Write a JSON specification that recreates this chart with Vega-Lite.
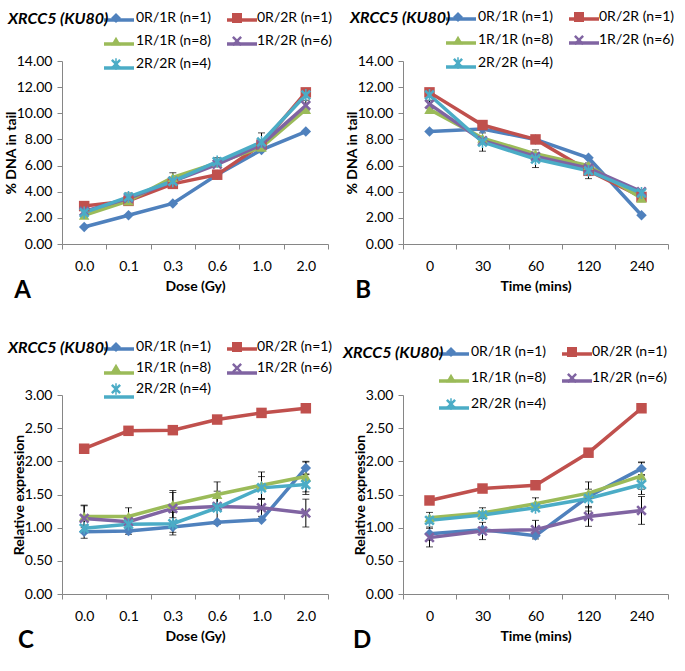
{
  "$schema": "https://vega.github.io/schema/vega-lite/v6.json",
  "background": "white",
  "padding": {"left": 4, "top": 2, "right": 5, "bottom": 5},
  "datasets": {
    "A": [
      {"x": "0.0", "s": "0R/1R (n=1)", "v": 1.3}, {"x": "0.1", "s": "0R/1R (n=1)", "v": 2.2}, {"x": "0.3", "s": "0R/1R (n=1)", "v": 3.1}, {"x": "0.6", "s": "0R/1R (n=1)", "v": 5.3}, {"x": "1.0", "s": "0R/1R (n=1)", "v": 7.2}, {"x": "2.0", "s": "0R/1R (n=1)", "v": 8.6},
      {"x": "0.0", "s": "0R/2R (n=1)", "v": 2.9}, {"x": "0.1", "s": "0R/2R (n=1)", "v": 3.3}, {"x": "0.3", "s": "0R/2R (n=1)", "v": 4.6}, {"x": "0.6", "s": "0R/2R (n=1)", "v": 5.3}, {"x": "1.0", "s": "0R/2R (n=1)", "v": 7.6}, {"x": "2.0", "s": "0R/2R (n=1)", "v": 11.6},
      {"x": "0.0", "s": "1R/1R (n=8)", "v": 2.2}, {"x": "0.1", "s": "1R/1R (n=8)", "v": 3.3}, {"x": "0.3", "s": "1R/1R (n=8)", "v": 5.1, "lo": 4.8, "hi": 5.45}, {"x": "0.6", "s": "1R/1R (n=8)", "v": 6.2}, {"x": "1.0", "s": "1R/1R (n=8)", "v": 7.4}, {"x": "2.0", "s": "1R/1R (n=8)", "v": 10.3},
      {"x": "0.0", "s": "1R/2R (n=6)", "v": 2.5}, {"x": "0.1", "s": "1R/2R (n=6)", "v": 3.5}, {"x": "0.3", "s": "1R/2R (n=6)", "v": 4.8}, {"x": "0.6", "s": "1R/2R (n=6)", "v": 6.1}, {"x": "1.0", "s": "1R/2R (n=6)", "v": 7.6}, {"x": "2.0", "s": "1R/2R (n=6)", "v": 10.6, "lo": 10.2, "hi": 11.0},
      {"x": "0.0", "s": "2R/2R (n=4)", "v": 2.4}, {"x": "0.1", "s": "2R/2R (n=4)", "v": 3.6, "lo": 3.3, "hi": 3.9}, {"x": "0.3", "s": "2R/2R (n=4)", "v": 4.8}, {"x": "0.6", "s": "2R/2R (n=4)", "v": 6.3, "lo": 6.0, "hi": 6.6}, {"x": "1.0", "s": "2R/2R (n=4)", "v": 7.8, "lo": 7.2, "hi": 8.5}, {"x": "2.0", "s": "2R/2R (n=4)", "v": 11.4}
    ],
    "B": [
      {"x": 0, "s": "0R/1R (n=1)", "v": 8.6}, {"x": 30, "s": "0R/1R (n=1)", "v": 8.8}, {"x": 60, "s": "0R/1R (n=1)", "v": 8.0}, {"x": 120, "s": "0R/1R (n=1)", "v": 6.6}, {"x": 240, "s": "0R/1R (n=1)", "v": 2.2},
      {"x": 0, "s": "0R/2R (n=1)", "v": 11.6}, {"x": 30, "s": "0R/2R (n=1)", "v": 9.1}, {"x": 60, "s": "0R/2R (n=1)", "v": 8.0}, {"x": 120, "s": "0R/2R (n=1)", "v": 5.6}, {"x": 240, "s": "0R/2R (n=1)", "v": 3.6},
      {"x": 0, "s": "1R/1R (n=8)", "v": 10.3}, {"x": 30, "s": "1R/1R (n=8)", "v": 8.1}, {"x": 60, "s": "1R/1R (n=8)", "v": 6.9}, {"x": 120, "s": "1R/1R (n=8)", "v": 6.0}, {"x": 240, "s": "1R/1R (n=8)", "v": 3.5},
      {"x": 0, "s": "1R/2R (n=6)", "v": 10.7, "lo": 10.4, "hi": 11.0}, {"x": 30, "s": "1R/2R (n=6)", "v": 7.9}, {"x": 60, "s": "1R/2R (n=6)", "v": 6.7}, {"x": 120, "s": "1R/2R (n=6)", "v": 5.8}, {"x": 240, "s": "1R/2R (n=6)", "v": 4.0, "lo": 3.9, "hi": 4.1},
      {"x": 0, "s": "2R/2R (n=4)", "v": 11.4}, {"x": 30, "s": "2R/2R (n=4)", "v": 7.8, "lo": 7.1, "hi": 8.5}, {"x": 60, "s": "2R/2R (n=4)", "v": 6.5, "lo": 5.85, "hi": 7.2}, {"x": 120, "s": "2R/2R (n=4)", "v": 5.6, "lo": 5.0, "hi": 6.2}, {"x": 240, "s": "2R/2R (n=4)", "v": 3.9}
    ],
    "C": [
      {"x": "0.0", "s": "0R/1R (n=1)", "v": 0.94, "lo": 0.84, "hi": 1.04}, {"x": "0.1", "s": "0R/1R (n=1)", "v": 0.95, "lo": 0.9, "hi": 1.0}, {"x": "0.3", "s": "0R/1R (n=1)", "v": 1.01, "lo": 0.93, "hi": 1.09}, {"x": "0.6", "s": "0R/1R (n=1)", "v": 1.08}, {"x": "1.0", "s": "0R/1R (n=1)", "v": 1.12}, {"x": "2.0", "s": "0R/1R (n=1)", "v": 1.9, "lo": 1.81, "hi": 1.99},
      {"x": "0.0", "s": "0R/2R (n=1)", "v": 2.19}, {"x": "0.1", "s": "0R/2R (n=1)", "v": 2.46}, {"x": "0.3", "s": "0R/2R (n=1)", "v": 2.47}, {"x": "0.6", "s": "0R/2R (n=1)", "v": 2.63}, {"x": "1.0", "s": "0R/2R (n=1)", "v": 2.73}, {"x": "2.0", "s": "0R/2R (n=1)", "v": 2.8},
      {"x": "0.0", "s": "1R/1R (n=8)", "v": 1.17, "lo": 1.0, "hi": 1.34}, {"x": "0.1", "s": "1R/1R (n=8)", "v": 1.17, "lo": 1.04, "hi": 1.3}, {"x": "0.3", "s": "1R/1R (n=8)", "v": 1.35, "lo": 1.15, "hi": 1.56}, {"x": "0.6", "s": "1R/1R (n=8)", "v": 1.5, "lo": 1.31, "hi": 1.69}, {"x": "1.0", "s": "1R/1R (n=8)", "v": 1.64, "lo": 1.44, "hi": 1.84}, {"x": "2.0", "s": "1R/1R (n=8)", "v": 1.77, "lo": 1.54, "hi": 2.0},
      {"x": "0.0", "s": "1R/2R (n=6)", "v": 1.14, "lo": 0.95, "hi": 1.33}, {"x": "0.1", "s": "1R/2R (n=6)", "v": 1.09}, {"x": "0.3", "s": "1R/2R (n=6)", "v": 1.29, "lo": 1.05, "hi": 1.53}, {"x": "0.6", "s": "1R/2R (n=6)", "v": 1.32}, {"x": "1.0", "s": "1R/2R (n=6)", "v": 1.3, "lo": 1.17, "hi": 1.43}, {"x": "2.0", "s": "1R/2R (n=6)", "v": 1.22, "lo": 1.01, "hi": 1.43},
      {"x": "0.0", "s": "2R/2R (n=4)", "v": 0.99}, {"x": "0.1", "s": "2R/2R (n=4)", "v": 1.05}, {"x": "0.3", "s": "2R/2R (n=4)", "v": 1.06, "lo": 0.89, "hi": 1.23}, {"x": "0.6", "s": "2R/2R (n=4)", "v": 1.3, "lo": 1.05, "hi": 1.55}, {"x": "1.0", "s": "2R/2R (n=4)", "v": 1.6, "lo": 1.43, "hi": 1.77}, {"x": "2.0", "s": "2R/2R (n=4)", "v": 1.65, "lo": 1.5, "hi": 1.8}
    ],
    "D": [
      {"x": 0, "s": "0R/1R (n=1)", "v": 0.91, "lo": 0.81, "hi": 1.01}, {"x": 30, "s": "0R/1R (n=1)", "v": 0.97}, {"x": 60, "s": "0R/1R (n=1)", "v": 0.88}, {"x": 120, "s": "0R/1R (n=1)", "v": 1.47, "lo": 1.25, "hi": 1.69}, {"x": 240, "s": "0R/1R (n=1)", "v": 1.89, "lo": 1.79, "hi": 1.99},
      {"x": 0, "s": "0R/2R (n=1)", "v": 1.41}, {"x": 30, "s": "0R/2R (n=1)", "v": 1.59}, {"x": 60, "s": "0R/2R (n=1)", "v": 1.64}, {"x": 120, "s": "0R/2R (n=1)", "v": 2.13}, {"x": 240, "s": "0R/2R (n=1)", "v": 2.8},
      {"x": 0, "s": "1R/1R (n=8)", "v": 1.15, "lo": 1.07, "hi": 1.23}, {"x": 30, "s": "1R/1R (n=8)", "v": 1.22, "lo": 1.14, "hi": 1.3}, {"x": 60, "s": "1R/1R (n=8)", "v": 1.36, "lo": 1.27, "hi": 1.45}, {"x": 120, "s": "1R/1R (n=8)", "v": 1.52}, {"x": 240, "s": "1R/1R (n=8)", "v": 1.78, "lo": 1.58, "hi": 1.98},
      {"x": 0, "s": "1R/2R (n=6)", "v": 0.85, "lo": 0.71, "hi": 0.99}, {"x": 30, "s": "1R/2R (n=6)", "v": 0.95, "lo": 0.82, "hi": 1.08}, {"x": 60, "s": "1R/2R (n=6)", "v": 0.97, "lo": 0.83, "hi": 1.11}, {"x": 120, "s": "1R/2R (n=6)", "v": 1.17, "lo": 1.02, "hi": 1.32}, {"x": 240, "s": "1R/2R (n=6)", "v": 1.26, "lo": 1.05, "hi": 1.47},
      {"x": 0, "s": "2R/2R (n=4)", "v": 1.11}, {"x": 30, "s": "2R/2R (n=4)", "v": 1.19}, {"x": 60, "s": "2R/2R (n=4)", "v": 1.3}, {"x": 120, "s": "2R/2R (n=4)", "v": 1.44, "lo": 1.3, "hi": 1.58}, {"x": 240, "s": "2R/2R (n=4)", "v": 1.65, "lo": 1.5, "hi": 1.8}
    ]
  },
  "bounds": "flush",
  "columns": 2,
  "spacing": {"row": 151, "column": 75},
  "concat": [
    {
      "width": 266, "height": 183,
      "data": {"name": "A"},
      "title": {"text": "A", "orient": "bottom", "anchor": "start", "frame": "bounds", "offset": -14, "dx": 10},
      "layer": [
        {"transform": [{"filter": "isValid(datum.lo)"}], "mark": {"type": "errorbar", "ticks": {"size": 7}, "color": "black", "thickness": 1},
         "encoding": {"x": {"field": "x", "type": "ordinal", "title": "Dose (Gy)", "scale": {"paddingInner": 0, "paddingOuter": 0}},
                      "y": {"field": "lo", "type": "quantitative", "title": "% DNA in tail", "scale": {"domain": [0, 14], "nice": false}, "axis": {"values": [0, 2, 4, 6, 8, 10, 12, 14], "format": ".2f"}},
                      "y2": {"field": "hi"}}},
        {"transform": [{"calculate": "datum.s", "as": "g"}], "mark": {"type": "line", "strokeWidth": 3.5},
         "encoding": {"x": {"field": "x", "type": "ordinal", "title": "Dose (Gy)", "scale": {"paddingInner": 0, "paddingOuter": 0}},
                      "y": {"field": "v", "type": "quantitative", "title": "% DNA in tail", "scale": {"domain": [0, 14], "nice": false}, "axis": {"values": [0, 2, 4, 6, 8, 10, 12, 14], "format": ".2f"}},
                      "stroke": {"field": "g", "type": "nominal", "title": null, "scale": {"range": ["#4F81BD", "#C0504D", "#9BBB59", "#8064A2", "#4BACC6"]},
                                 "legend": {"title": null, "legendX": 40, "legendY": -58, "zindex": 1, "symbolType": "stroke", "symbolSize": 900, "symbolStrokeWidth": 3.5, "labelOffset": 1, "columnPadding": 79, "rowPadding": 0, "labelOpacity": 0, "labelExpr": "' '"}}}},
        {"mark": {"type": "point", "size": 110, "strokeWidth": 0, "opacity": 1},
         "encoding": {"x": {"field": "x", "type": "ordinal", "title": "Dose (Gy)", "scale": {"paddingInner": 0, "paddingOuter": 0}},
                      "y": {"field": "v", "type": "quantitative", "title": "% DNA in tail", "scale": {"domain": [0, 14], "nice": false}, "axis": {"values": [0, 2, 4, 6, 8, 10, 12, 14], "format": ".2f"}},
                      "fill": {"field": "s", "type": "nominal", "title": "XRCC5 (KU80)", "scale": {"range": ["#4F81BD", "#C0504D", "#9BBB59", "#8064A2", "#4BACC6"]}, "legend": {"legendX": -54, "legendY": -50, "zindex": 2}},
                      "shape": {"field": "s", "type": "nominal", "title": "XRCC5 (KU80)", "scale": {"range": ["diamond", "square", "triangle-up", "M-1,-0.65L-0.65,-1L0,-0.35L0.65,-1L1,-0.65L0.35,0L1,0.65L0.65,1L0,0.35L-0.65,1L-1,0.65L-0.35,0Z", "M-1,-0.65L-0.65,-1L0,-0.35L0.65,-1L1,-0.65L0.35,0L1,0.65L0.65,1L0,0.35L-0.65,1L-1,0.65L-0.35,0ZM-0.15,-1.15L0.15,-1.15L0.15,1.15L-0.15,1.15Z"]}, "legend": {"legendX": -54, "legendY": -50, "zindex": 2}}}}
      ]
    },
    {
      "width": 265, "height": 183,
      "data": {"name": "B"},
      "title": {"text": "B", "orient": "bottom", "anchor": "start", "frame": "bounds", "offset": -14, "dx": 10},
      "layer": [
        {"transform": [{"filter": "isValid(datum.lo)"}], "mark": {"type": "errorbar", "ticks": {"size": 7}, "color": "black", "thickness": 1},
         "encoding": {"x": {"field": "x", "type": "ordinal", "title": "Time (mins)", "scale": {"paddingInner": 0, "paddingOuter": 0}},
                      "y": {"field": "lo", "type": "quantitative", "title": "% DNA in tail", "scale": {"domain": [0, 14], "nice": false}, "axis": {"values": [0, 2, 4, 6, 8, 10, 12, 14], "format": ".2f"}},
                      "y2": {"field": "hi"}}},
        {"transform": [{"calculate": "datum.s", "as": "g"}], "mark": {"type": "line", "strokeWidth": 3.5},
         "encoding": {"x": {"field": "x", "type": "ordinal", "title": "Time (mins)", "scale": {"paddingInner": 0, "paddingOuter": 0}},
                      "y": {"field": "v", "type": "quantitative", "title": "% DNA in tail", "scale": {"domain": [0, 14], "nice": false}, "axis": {"values": [0, 2, 4, 6, 8, 10, 12, 14], "format": ".2f"}},
                      "stroke": {"field": "g", "type": "nominal", "title": null, "scale": {"range": ["#4F81BD", "#C0504D", "#9BBB59", "#8064A2", "#4BACC6"]},
                                 "legend": {"title": null, "legendX": 41, "legendY": -59, "zindex": 1, "symbolType": "stroke", "symbolSize": 900, "symbolStrokeWidth": 3.5, "labelOffset": 1, "columnPadding": 79, "rowPadding": 0, "labelOpacity": 0, "labelExpr": "' '"}}}},
        {"mark": {"type": "point", "size": 110, "strokeWidth": 0, "opacity": 1},
         "encoding": {"x": {"field": "x", "type": "ordinal", "title": "Time (mins)", "scale": {"paddingInner": 0, "paddingOuter": 0}},
                      "y": {"field": "v", "type": "quantitative", "title": "% DNA in tail", "scale": {"domain": [0, 14], "nice": false}, "axis": {"values": [0, 2, 4, 6, 8, 10, 12, 14], "format": ".2f"}},
                      "fill": {"field": "s", "type": "nominal", "title": "XRCC5 (KU80)", "scale": {"range": ["#4F81BD", "#C0504D", "#9BBB59", "#8064A2", "#4BACC6"]}, "legend": {"legendX": -53, "legendY": -51, "zindex": 2}},
                      "shape": {"field": "s", "type": "nominal", "title": "XRCC5 (KU80)", "scale": {"range": ["diamond", "square", "triangle-up", "M-1,-0.65L-0.65,-1L0,-0.35L0.65,-1L1,-0.65L0.35,0L1,0.65L0.65,1L0,0.35L-0.65,1L-1,0.65L-0.35,0Z", "M-1,-0.65L-0.65,-1L0,-0.35L0.65,-1L1,-0.65L0.35,0L1,0.65L0.65,1L0,0.35L-0.65,1L-1,0.65L-0.35,0ZM-0.15,-1.15L0.15,-1.15L0.15,1.15L-0.15,1.15Z"]}, "legend": {"legendX": -53, "legendY": -51, "zindex": 2}}}}
      ]
    },
    {
      "width": 266, "height": 199,
      "data": {"name": "C"},
      "title": {"text": "C", "orient": "bottom", "anchor": "start", "frame": "bounds", "offset": -14, "dx": 10},
      "layer": [
        {"transform": [{"filter": "isValid(datum.lo)"}], "mark": {"type": "errorbar", "ticks": {"size": 7}, "color": "black", "thickness": 1},
         "encoding": {"x": {"field": "x", "type": "ordinal", "title": "Dose (Gy)", "scale": {"paddingInner": 0, "paddingOuter": 0}},
                      "y": {"field": "lo", "type": "quantitative", "title": "Relative expression", "scale": {"domain": [0, 3], "nice": false}, "axis": {"values": [0, 0.5, 1, 1.5, 2, 2.5, 3], "format": ".2f"}},
                      "y2": {"field": "hi"}}},
        {"transform": [{"calculate": "datum.s", "as": "g"}], "mark": {"type": "line", "strokeWidth": 3.5},
         "encoding": {"x": {"field": "x", "type": "ordinal", "title": "Dose (Gy)", "scale": {"paddingInner": 0, "paddingOuter": 0}},
                      "y": {"field": "v", "type": "quantitative", "title": "Relative expression", "scale": {"domain": [0, 3], "nice": false}, "axis": {"values": [0, 0.5, 1, 1.5, 2, 2.5, 3], "format": ".2f"}},
                      "stroke": {"field": "g", "type": "nominal", "title": null, "scale": {"range": ["#4F81BD", "#C0504D", "#9BBB59", "#8064A2", "#4BACC6"]},
                                 "legend": {"title": null, "legendX": 40, "legendY": -63, "zindex": 1, "symbolType": "stroke", "symbolSize": 900, "symbolStrokeWidth": 3.5, "labelOffset": 1, "columnPadding": 79, "rowPadding": -2, "labelOpacity": 0, "labelExpr": "' '"}}}},
        {"mark": {"type": "point", "size": 110, "strokeWidth": 0, "opacity": 1},
         "encoding": {"x": {"field": "x", "type": "ordinal", "title": "Dose (Gy)", "scale": {"paddingInner": 0, "paddingOuter": 0}},
                      "y": {"field": "v", "type": "quantitative", "title": "Relative expression", "scale": {"domain": [0, 3], "nice": false}, "axis": {"values": [0, 0.5, 1, 1.5, 2, 2.5, 3], "format": ".2f"}},
                      "fill": {"field": "s", "type": "nominal", "title": "XRCC5 (KU80)", "scale": {"range": ["#4F81BD", "#C0504D", "#9BBB59", "#8064A2", "#4BACC6"]}, "legend": {"legendX": -54, "legendY": -55, "zindex": 2, "rowPadding": 7}},
                      "shape": {"field": "s", "type": "nominal", "title": "XRCC5 (KU80)", "scale": {"range": ["diamond", "square", "triangle-up", "M-1,-0.65L-0.65,-1L0,-0.35L0.65,-1L1,-0.65L0.35,0L1,0.65L0.65,1L0,0.35L-0.65,1L-1,0.65L-0.35,0Z", "M-1,-0.65L-0.65,-1L0,-0.35L0.65,-1L1,-0.65L0.35,0L1,0.65L0.65,1L0,0.35L-0.65,1L-1,0.65L-0.35,0ZM-0.15,-1.15L0.15,-1.15L0.15,1.15L-0.15,1.15Z"]}, "legend": {"legendX": -54, "legendY": -55, "zindex": 2, "rowPadding": 7}}}}
      ]
    },
    {
      "width": 265, "height": 199,
      "data": {"name": "D"},
      "title": {"text": "D", "orient": "bottom", "anchor": "start", "frame": "bounds", "offset": -14, "dx": 10},
      "layer": [
        {"transform": [{"filter": "isValid(datum.lo)"}], "mark": {"type": "errorbar", "ticks": {"size": 7}, "color": "black", "thickness": 1},
         "encoding": {"x": {"field": "x", "type": "ordinal", "title": "Time (mins)", "scale": {"paddingInner": 0, "paddingOuter": 0}},
                      "y": {"field": "lo", "type": "quantitative", "title": "Relative expression", "scale": {"domain": [0, 3], "nice": false}, "axis": {"values": [0, 0.5, 1, 1.5, 2, 2.5, 3], "format": ".2f"}},
                      "y2": {"field": "hi"}}},
        {"transform": [{"calculate": "datum.s", "as": "g"}], "mark": {"type": "line", "strokeWidth": 3.5},
         "encoding": {"x": {"field": "x", "type": "ordinal", "title": "Time (mins)", "scale": {"paddingInner": 0, "paddingOuter": 0}},
                      "y": {"field": "v", "type": "quantitative", "title": "Relative expression", "scale": {"domain": [0, 3], "nice": false}, "axis": {"values": [0, 0.5, 1, 1.5, 2, 2.5, 3], "format": ".2f"}},
                      "stroke": {"field": "g", "type": "nominal", "title": null, "scale": {"range": ["#4F81BD", "#C0504D", "#9BBB59", "#8064A2", "#4BACC6"]},
                                 "legend": {"title": null, "legendX": 34, "legendY": -58, "zindex": 1, "symbolType": "stroke", "symbolSize": 900, "symbolStrokeWidth": 3.5, "labelOffset": 1, "columnPadding": 79, "rowPadding": 3, "labelOpacity": 0, "labelExpr": "' '"}}}},
        {"mark": {"type": "point", "size": 110, "strokeWidth": 0, "opacity": 1},
         "encoding": {"x": {"field": "x", "type": "ordinal", "title": "Time (mins)", "scale": {"paddingInner": 0, "paddingOuter": 0}},
                      "y": {"field": "v", "type": "quantitative", "title": "Relative expression", "scale": {"domain": [0, 3], "nice": false}, "axis": {"values": [0, 0.5, 1, 1.5, 2, 2.5, 3], "format": ".2f"}},
                      "fill": {"field": "s", "type": "nominal", "title": "XRCC5 (KU80)", "scale": {"range": ["#4F81BD", "#C0504D", "#9BBB59", "#8064A2", "#4BACC6"]}, "legend": {"legendX": -60, "legendY": -50, "zindex": 2, "rowPadding": 12}},
                      "shape": {"field": "s", "type": "nominal", "title": "XRCC5 (KU80)", "scale": {"range": ["diamond", "square", "triangle-up", "M-1,-0.65L-0.65,-1L0,-0.35L0.65,-1L1,-0.65L0.35,0L1,0.65L0.65,1L0,0.35L-0.65,1L-1,0.65L-0.35,0Z", "M-1,-0.65L-0.65,-1L0,-0.35L0.65,-1L1,-0.65L0.35,0L1,0.65L0.65,1L0,0.35L-0.65,1L-1,0.65L-0.35,0ZM-0.15,-1.15L0.15,-1.15L0.15,1.15L-0.15,1.15Z"]}, "legend": {"legendX": -60, "legendY": -50, "zindex": 2, "rowPadding": 12}}}}
      ]
    }
  ],
  "resolve": {"scale": {"stroke": "independent", "fill": "independent", "shape": "independent", "x": "independent", "y": "independent"}},
  "config": {
    "font": "Lato",
    "view": {"stroke": null},
    "title": {"font": "Lato", "fontSize": 24, "fontWeight": "bold", "color": "black"},
    "axis": {"labelFont": "Lato", "labelFontSize": 14, "labelColor": "black", "titleFont": "Lato", "titleFontSize": 14, "titleFontWeight": "bold", "titleColor": "black", "grid": false, "domainColor": "#868686", "tickColor": "#868686", "tickSize": 5, "domainWidth": 1},
    "axisX": {"labelAngle": 0, "tickBand": "extent", "labelPadding": 10, "titlePadding": 6},
    "axisY": {"labelPadding": 5, "titlePadding": -2},
    "legend": {"orient": "none", "direction": "horizontal", "columns": 2, "titleOrient": "left", "titleAnchor": "start", "titleFont": "Lato", "titleFontSize": 16, "titleFontWeight": "bold", "titleFontStyle": "italic", "titleColor": "black", "titlePadding": 0, "labelFont": "Lato", "labelFontSize": 14, "labelColor": "black", "labelOffset": 13, "symbolSize": 100, "symbolStrokeWidth": 0, "rowPadding": 9, "columnPadding": 18}
  }
}
